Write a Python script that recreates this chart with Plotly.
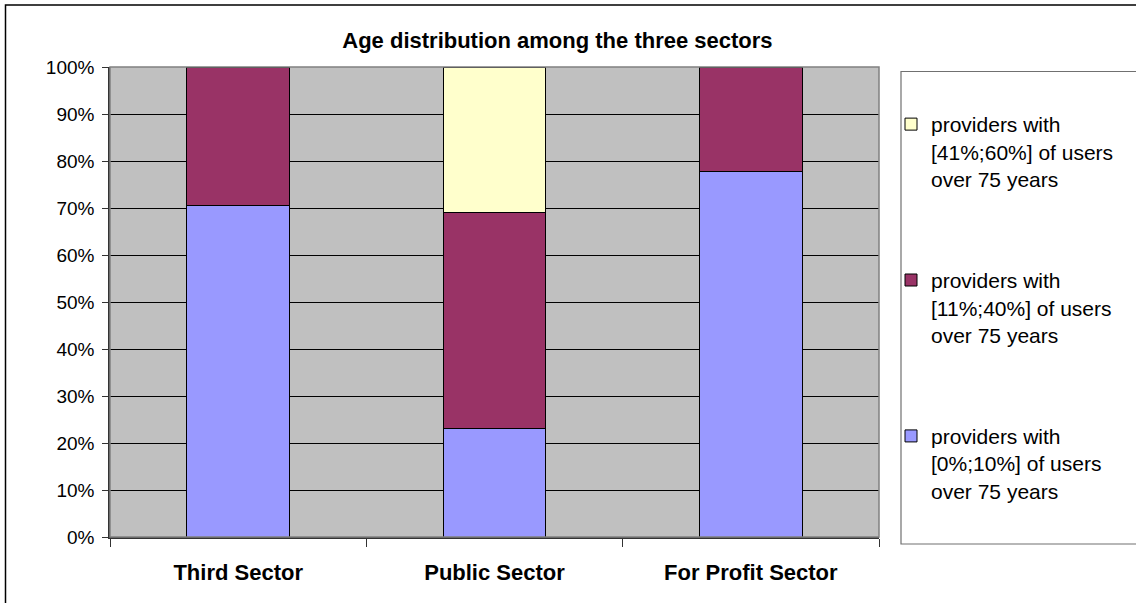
import plotly.graph_objects as go

# Sectors compared on the x axis
sectors = ["Third Sector", "Public Sector", "For Profit Sector"]

# Share of providers in each age band (stacked to 100%)
share_0_10 = [0.705, 0.230, 0.777]
share_11_40 = [0.295, 0.460, 0.223]
share_41_60 = [0.000, 0.310, 0.000]

series_names = [
    "providers with<br>[0%;10%] of users<br>over 75 years",
    "providers with<br>[11%;40%] of users<br>over 75 years",
    "providers with<br>[41%;60%] of users<br>over 75 years",
]
series_colors = ["#9999FF", "#993366", "#FFFFCC"]
series_values = [share_0_10, share_11_40, share_41_60]
legend_ranks = [3, 2, 1]

y_ticks = [i / 10 for i in range(11)]

fig = go.Figure()
for name, color, vals, rank in zip(series_names, series_colors, series_values, legend_ranks):
    fig.add_trace(go.Bar(
        x=sectors,
        y=vals,
        name=name,
        legendgroup=name,
        legendrank=rank,
        marker=dict(color=color, line=dict(color="#000000", width=1)),
        hoverinfo="skip",
    ))

W, H = 1136, 603
L, R, T, B = 110, 257, 67, 65.5
pw = W - L - R
ph = H - T - B


def px_x(x):
    return (x - L) / pw


def px_y(y):
    return 1 - (y - T) / ph


shapes = [
    # outer chart frame (runs past the right and bottom edges of the page)
    dict(type="rect", xref="paper", yref="paper",
         x0=px_x(5.5), x1=px_x(1300), y0=px_y(800), y1=px_y(5),
         line=dict(color="#000000", width=1.5), fillcolor="rgba(0,0,0,0)",
         layer="below"),
    # legend frame
    dict(type="rect", xref="paper", yref="paper",
         x0=px_x(901), x1=px_x(1300), y0=px_y(544.5), y1=px_y(71.5),
         line=dict(color="#707070", width=1.2), fillcolor="#FFFFFF",
         layer="below"),
    # plot area border
    dict(type="rect", xref="paper", yref="paper",
         x0=0, x1=1, y0=0, y1=1,
         line=dict(color="#808080", width=1.5), fillcolor="rgba(0,0,0,0)",
         layer="above"),
]

fig.update_layout(
    width=W, height=H,
    margin=dict(l=L, r=R, t=T, b=B, pad=0, autoexpand=False),
    paper_bgcolor="#FFFFFF",
    plot_bgcolor="#C0C0C0",
    barmode="stack",
    bargap=0.6,
    font=dict(family="Liberation Sans, Arial, sans-serif", color="#000000"),
    title=dict(
        text="<b>Age distribution among the three sectors</b>",
        font=dict(size=22, color="#000000"),
        x=0.4907, xref="container", xanchor="center",
        y=1 - 40 / H, yref="container", yanchor="middle",
    ),
    xaxis=dict(
        type="category",
        tickfont=dict(size=22, color="#000000", weight="bold"),
        ticks="outside", tickson="boundaries", ticklen=8,
        tickcolor="#333333", tickwidth=1,
        showline=True, linecolor="#333333", linewidth=1.5,
        showgrid=False,
        ticklabelstandoff=15,
        fixedrange=True,
    ),
    yaxis=dict(
        range=[0, 1],
        tickvals=y_ticks,
        tickformat=".0%",
        tickfont=dict(size=19, color="#000000"),
        ticks="outside", ticklen=6, tickcolor="#333333", tickwidth=1,
        showline=True, linecolor="#333333", linewidth=1.5,
        showgrid=True, gridcolor="#000000", gridwidth=1,
        zeroline=False,
        ticklabelstandoff=4,
        fixedrange=True,
    ),
    showlegend=True,
    legend=dict(
        x=px_x(891), xanchor="left",
        y=px_y(104), yanchor="top",
        bgcolor="rgba(0,0,0,0)",
        borderwidth=0,
        font=dict(size=21, color="#000000"),
        traceorder="grouped",
        tracegroupgap=71,
        valign="top",
        itemwidth=30,
        itemclick=False, itemdoubleclick=False,
    ),
    shapes=shapes,
)

fig.write_html("out.html", config={"displayModeBar": False})
